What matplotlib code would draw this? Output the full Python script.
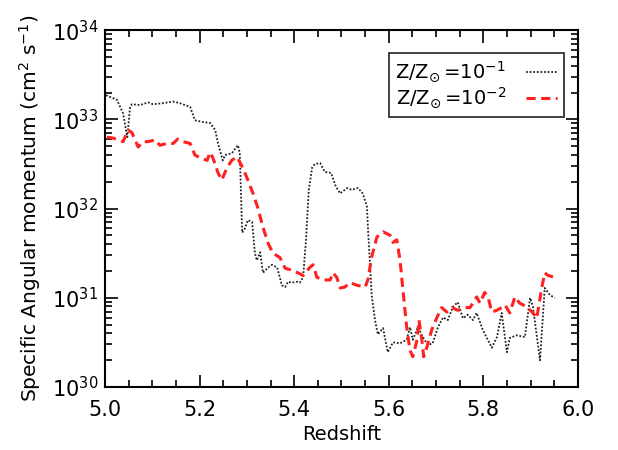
import numpy as np
import matplotlib
matplotlib.use('Agg')
import matplotlib.pyplot as plt
from matplotlib.ticker import MultipleLocator, LogLocator, NullFormatter

# redshift / log10(specific angular momentum) for Z/Zsun = 1e-1
z_m1 = [5.002, 5.025, 5.038, 5.047, 5.053, 5.057, 5.074, 5.091, 5.101, 5.121,
        5.144, 5.159, 5.180, 5.190, 5.207, 5.222, 5.233, 5.239, 5.249, 5.254,
        5.268, 5.281, 5.285, 5.290, 5.296, 5.302, 5.311, 5.317, 5.321, 5.328,
        5.334, 5.345, 5.353, 5.364, 5.374, 5.381, 5.387, 5.395, 5.406, 5.412,
        5.419, 5.425, 5.431, 5.438, 5.444, 5.455, 5.465, 5.478, 5.488, 5.497,
        5.512, 5.522, 5.535, 5.545, 5.554, 5.556, 5.560, 5.564, 5.571, 5.577,
        5.588, 5.598, 5.609, 5.624, 5.638, 5.645, 5.651, 5.662, 5.672, 5.683,
        5.693, 5.704, 5.715, 5.725, 5.736, 5.746, 5.757, 5.767, 5.778, 5.786,
        5.799, 5.818, 5.829, 5.839, 5.850, 5.856, 5.871, 5.888, 5.899, 5.905,
        5.920, 5.930, 5.941, 5.951]
logj_m1 = [33.27, 33.22, 33.07, 32.80, 33.14, 33.17, 33.16, 33.19, 33.17, 33.18,
           33.20, 33.18, 33.14, 32.99, 32.97, 32.96, 32.88, 32.73, 32.54, 32.60,
           32.62, 32.71, 32.62, 31.73, 31.78, 31.87, 31.85, 31.50, 31.42, 31.51,
           31.28, 31.34, 31.37, 31.34, 31.14, 31.12, 31.18, 31.17, 31.18, 31.17,
           31.23, 31.65, 32.21, 32.46, 32.50, 32.51, 32.41, 32.40, 32.25, 32.17,
           32.23, 32.21, 32.23, 32.17, 32.02, 31.79, 31.42, 31.03, 30.75, 30.59,
           30.66, 30.39, 30.50, 30.49, 30.53, 30.67, 30.53, 30.67, 30.56, 30.47,
           30.49, 30.67, 30.78, 30.75, 30.90, 30.95, 30.77, 30.81, 30.75, 30.83,
           30.64, 30.44, 30.56, 30.83, 30.39, 30.55, 30.58, 30.56, 31.00, 30.90,
           30.30, 31.11, 31.03, 31.00]

# same for Z/Zsun = 1e-2
z_m2 = [5.004, 5.017, 5.038, 5.049, 5.057, 5.070, 5.080, 5.091, 5.106, 5.116,
        5.131, 5.144, 5.154, 5.165, 5.180, 5.190, 5.201, 5.216, 5.222, 5.228,
        5.239, 5.247, 5.258, 5.268, 5.279, 5.292, 5.302, 5.313, 5.323, 5.334,
        5.345, 5.355, 5.370, 5.381, 5.395, 5.408, 5.419, 5.433, 5.440, 5.448,
        5.461, 5.476, 5.482, 5.490, 5.497, 5.507, 5.518, 5.533, 5.550, 5.556,
        5.564, 5.575, 5.588, 5.603, 5.609, 5.617, 5.624, 5.630, 5.638, 5.645,
        5.651, 5.660, 5.664, 5.670, 5.674, 5.681, 5.691, 5.702, 5.712, 5.723,
        5.734, 5.746, 5.761, 5.772, 5.786, 5.793, 5.803, 5.810, 5.818, 5.829,
        5.839, 5.846, 5.856, 5.867, 5.877, 5.892, 5.905, 5.913, 5.924, 5.930,
        5.937, 5.951]
logj_m2 = [32.80, 32.79, 32.75, 32.88, 32.85, 32.69, 32.75, 32.75, 32.77, 32.71,
           32.73, 32.73, 32.78, 32.75, 32.73, 32.60, 32.57, 32.54, 32.63, 32.57,
           32.40, 32.32, 32.46, 32.54, 32.58, 32.45, 32.32, 32.17, 32.01, 31.79,
           31.61, 31.50, 31.45, 31.33, 31.31, 31.28, 31.25, 31.34, 31.37, 31.23,
           31.20, 31.20, 31.28, 31.23, 31.11, 31.12, 31.17, 31.14, 31.12, 31.20,
           31.46, 31.68, 31.74, 31.70, 31.62, 31.65, 31.42, 31.09, 30.67, 30.41,
           30.34, 30.53, 30.75, 30.53, 30.34, 30.45, 30.64, 30.78, 30.89, 30.84,
           30.89, 30.86, 30.89, 30.89, 31.01, 30.94, 31.06, 31.01, 30.84, 30.86,
           30.89, 30.92, 30.83, 31.01, 30.94, 30.90, 30.83, 30.77, 31.12, 31.28,
           31.25, 31.23]

labels = [r'Z/Z$_{\odot}\,$=10$^{-1}$', r'Z/Z$_{\odot}\,$=10$^{-2}$']

plt.rcParams['font.family'] = ['DejaVu Sans']
plt.rcParams['mathtext.fontset'] = 'dejavusans'

fig = plt.figure(figsize=(6.18, 4.5), dpi=100)
ax = fig.add_axes([0.170, 0.140, 0.765, 0.793])

ax.plot(z_m1, 10 ** np.array(logj_m1), color='#222222', ls=(0, (1, 1)), lw=1.3, label=labels[0])
ax.plot(z_m2, 10 ** np.array(logj_m2), color='#ff2020', ls=(0, (3.0, 1.8)), lw=2.2, label=labels[1])

ax.set_yscale('log')
ax.set_xlim(5.0, 6.0)
ax.set_ylim(1e30, 1e34)
ax.xaxis.set_major_locator(MultipleLocator(0.2))
ax.xaxis.set_minor_locator(MultipleLocator(0.05))
ax.yaxis.set_major_locator(LogLocator(base=10, numticks=10))
ax.yaxis.set_minor_locator(LogLocator(base=10, subs=np.arange(2, 10), numticks=10))
ax.yaxis.set_minor_formatter(NullFormatter())
ax.xaxis.set_major_formatter(matplotlib.ticker.FormatStrFormatter('%.1f'))

ax.tick_params(which='both', direction='in', top=True, right=True, labelsize=15, width=1.2)
ax.tick_params(which='major', length=9)
ax.tick_params(which='minor', length=5)
ax.tick_params(axis='x', pad=9)
ax.tick_params(axis='y', pad=5)
for s in ax.spines.values():
    s.set_linewidth(1.5)

ax.set_xlabel('Redshift', fontsize=14, labelpad=4)
ax.set_ylabel(r'Specific Angular momentum (cm$^2$ s$^{-1}$)', fontsize=14.5, labelpad=6)

leg = ax.legend(loc='upper right', bbox_to_anchor=(0.970, 0.936), borderaxespad=0,
                markerfirst=False, fontsize=14, frameon=True, fancybox=False,
                handlelength=1.6, borderpad=0.35, labelspacing=0.05, handletextpad=1.0)
leg.get_frame().set_edgecolor('black')
leg.get_frame().set_linewidth(1.3)

fig.savefig('out.png', dpi=100)
